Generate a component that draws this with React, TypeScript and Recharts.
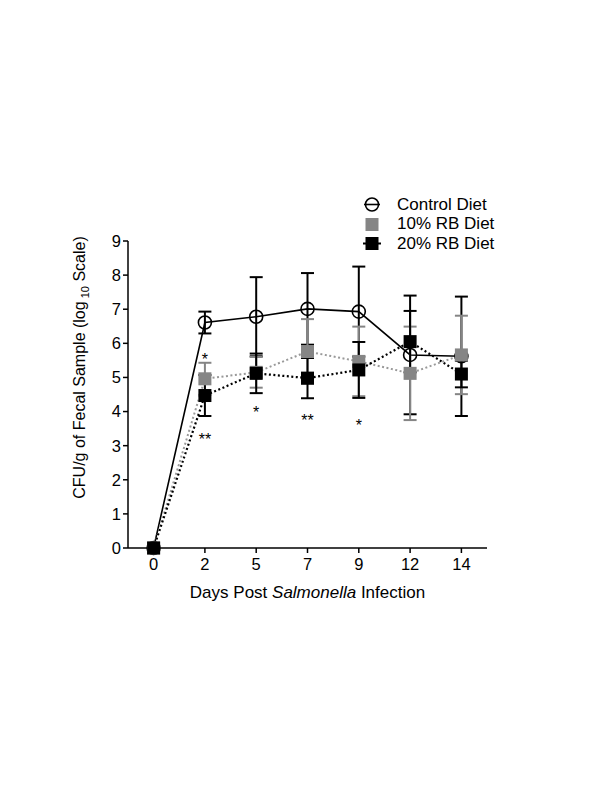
import React from 'react';
import { LineChart, Line, XAxis, YAxis, ErrorBar, Legend } from 'recharts';

const days = ['0', '2', '5', '7', '9', '12', '14'];
const controlVals = [0, 6.61, 6.78, 7.01, 6.93, 5.66, 5.62];
const controlErr = [0, 0.32, 1.16, 1.05, 1.32, 1.74, 1.75];
const rb10Vals = [0, 4.96, 5.15, 5.76, 5.47, 5.12, 5.66];
const rb10Err = [0, 0.47, 0.45, 0.95, 1.02, 1.37, 1.15];
const rb20Vals = [0, 4.47, 5.12, 4.98, 5.22, 6.05, 5.1];
const rb20Err = [0, 0.6, 0.58, 0.59, 0.82, 0.9, 0.39];
const starHiText = ['', '*', '', '', '', '', ''];
const starHiY = [null, 5.63, null, null, null, null, null];
const starLoText = ['', '**', '*', '**', '*', '', ''];
const starLoY = [null, 3.29, 4.08, 3.83, 3.69, null, null];
const yTicks = [0, 1, 2, 3, 4, 5, 6, 7, 8, 9];

const data = days.map((d, i) => ({
  day: d,
  control: controlVals[i],
  controlErr: controlErr[i],
  rb10: rb10Vals[i],
  rb10Err: rb10Err[i],
  rb20: rb20Vals[i],
  rb20Err: rb20Err[i],
  starHi: starHiY[i],
  starHiText: starHiText[i],
  starLo: starLoY[i],
  starLoText: starLoText[i],
}));

const FONT = "Arial, 'Liberation Sans', Helvetica, sans-serif";
const GREY = '#858585';

const CircleDot = (props: any) => {
  const { cx, cy, index } = props;
  if (cx == null || cy == null) return <g key={`c${index}`} />;
  return <circle key={`c${index}`} cx={cx} cy={cy} r={6.5} fill="none" stroke="#000" strokeWidth={1.6} />;
};

const makeSquare = (color: string, prefix: string) => (props: any) => {
  const { cx, cy, index } = props;
  if (cx == null || cy == null) return <g key={`${prefix}${index}`} />;
  return <rect key={`${prefix}${index}`} x={cx - 6.5} y={cy - 6.5} width={13} height={13} fill={color} />;
};

const makeStar = (textKey: string, prefix: string) => (props: any) => {
  const { cx, cy, index, payload } = props;
  const t = payload ? payload[textKey] : '';
  if (cx == null || cy == null || !t) return <g key={`${prefix}${index}`} />;
  return (
    <text key={`${prefix}${index}`} x={cx} y={cy + 9} textAnchor="middle" fontSize={16} fontFamily={FONT} fill="#000">
      {t}
    </text>
  );
};

const legendItems = [
  { label: 'Control Diet', kind: 'circle' },
  { label: '10% RB Diet', kind: 'grey' },
  { label: '20% RB Diet', kind: 'black' },
];

const LegendContent = () => (
  <div style={{ fontFamily: FONT, fontSize: 17, color: '#000' }}>
    {legendItems.map((it) => (
      <div key={it.label} style={{ display: 'flex', alignItems: 'center', height: 19.5 }}>
        <svg width={24} height={19} style={{ marginRight: 13 }}>
          {it.kind === 'circle' && (
            <g>
              <line x1={4} y1={9.5} x2={20} y2={9.5} stroke="#000" strokeWidth={1.6} />
              <circle cx={12} cy={9.5} r={6.5} fill="none" stroke="#000" strokeWidth={1.6} />
            </g>
          )}
          {it.kind === 'grey' && <rect x={5.5} y={3} width={13} height={13} fill={GREY} />}
          {it.kind === 'black' && (
            <g>
              <line x1={3} y1={9.5} x2={21} y2={9.5} stroke="#000" strokeWidth={2} />
              <rect x={5.5} y={3} width={13} height={13} fill="#000" />
            </g>
          )}
        </svg>
        <span>{it.label}</span>
      </div>
    ))}
  </div>
);

const YLabel = (props: any) => {
  const vb = props.viewBox || { x: 0, y: 0, width: 0, height: 0 };
  const x = vb.x + 77;
  const y = vb.y + vb.height / 2 - 27;
  return (
    <text
      x={x}
      y={y}
      transform={`rotate(-90, ${x}, ${y})`}
      textAnchor="middle"
      fontFamily={FONT}
      fontSize={16}
      fill="#000"
    >
      CFU/g of Fecal Sample (log
      <tspan fontSize={11} dy={4}> 10</tspan>
      <tspan dy={-4}> Scale)</tspan>
    </text>
  );
};

const XLabel = (props: any) => {
  const vb = props.viewBox || { x: 0, y: 0, width: 0, height: 0 };
  const x = vb.x + vb.width / 2;
  const y = vb.y + 50;
  return (
    <text x={x} y={y} textAnchor="middle" fontFamily={FONT} fontSize={17} fill="#000">
      Days Post <tspan fontStyle="italic">Salmonella</tspan> Infection
    </text>
  );
};

export default function App() {
  return (
    <div style={{ width: 584, height: 700 }}>
      <LineChart
        width={584}
        height={700}
        data={data}
        margin={{ top: 233, right: 105, left: 0, bottom: 130 }}
      >
        <XAxis
          dataKey="day"
          type="category"
          padding={{ left: 25.6, right: 25.6 }}
          axisLine={{ stroke: '#000', strokeWidth: 1.5 }}
          tickLine={{ stroke: '#000', strokeWidth: 1.5 }}
          tickSize={5}
          tickMargin={5}
          tick={{ fill: '#000', fontSize: 16.5, fontFamily: FONT }}
          height={30}
          label={<XLabel />}
        />
        <YAxis
          type="number"
          domain={[0, 9]}
          ticks={yTicks}
          interval={0}
          width={120}
          axisLine={{ stroke: '#000', strokeWidth: 1.5 }}
          tickLine={{ stroke: '#000', strokeWidth: 1.5 }}
          tickSize={5}
          tickMargin={2}
          tick={{ fill: '#000', fontSize: 16.5, fontFamily: FONT }}
          label={<YLabel />}
        />
        <Legend
          layout="vertical"
          align="center"
          verticalAlign="middle"
          content={<LegendContent />}
          wrapperStyle={{ position: 'absolute', left: 352, top: 187, width: 200, height: 60 }}
        />
        <Line
          dataKey="control"
          stroke="#000"
          strokeWidth={1.6}
          dot={CircleDot}
          activeDot={false}
          isAnimationActive={false}
        >
          <ErrorBar dataKey="controlErr" width={6.5} strokeWidth={2} stroke="#000" direction="y" />
        </Line>
        <Line
          dataKey="rb10"
          stroke="#999"
          strokeWidth={2}
          strokeDasharray="2 2.5"
          dot={makeSquare(GREY, 'g')}
          activeDot={false}
          isAnimationActive={false}
        >
          <ErrorBar dataKey="rb10Err" width={6.5} strokeWidth={2} stroke={GREY} direction="y" />
        </Line>
        <Line
          dataKey="rb20"
          stroke="#000"
          strokeWidth={2.2}
          strokeDasharray="2 2.5"
          dot={makeSquare('#000', 'b')}
          activeDot={false}
          isAnimationActive={false}
        >
          <ErrorBar dataKey="rb20Err" width={6.5} strokeWidth={2} stroke="#000" direction="y" />
        </Line>
        <Line
          dataKey="starHi"
          stroke="none"
          dot={makeStar('starHiText', 'sh')}
          activeDot={false}
          legendType="none"
          isAnimationActive={false}
        />
        <Line
          dataKey="starLo"
          stroke="none"
          dot={makeStar('starLoText', 'sl')}
          activeDot={false}
          legendType="none"
          isAnimationActive={false}
        />
      </LineChart>
    </div>
  );
}
